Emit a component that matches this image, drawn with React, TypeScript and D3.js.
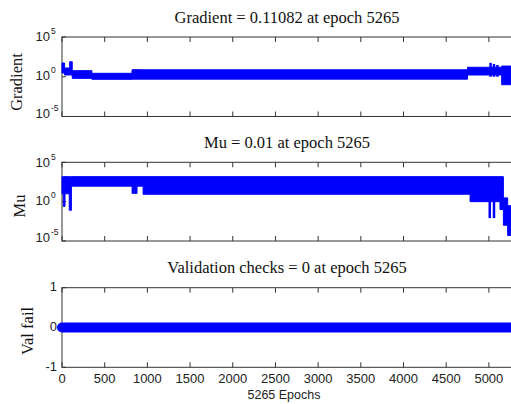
import React from "react";
import * as d3 from "d3";

// training record (bands = the envelope of the dense trace)
const epochTicks = [0, 500, 1000, 1500, 2000, 2500, 3000, 3500, 4000, 4500, 5000];
const lastEpoch = 5265;

const gradEpochs = [0, 30, 90, 120, 350, 820, 4750, 5150, 5265];
const gradLow = [3, 1.66, 1.66, 0.63, 0.48, 0.5, 1.66, 0.1, 0.1];
const gradHigh = [54, 12.6, 78, 5.8, 2.7, 7.5, 15.5, 22, 22];
const gradSpikeEpochs = [850, 880, 5020, 5060, 5100];
const gradSpikeValues = [8, 8, 56, 40, 30];

const muEpochs = [0, 15, 35, 85, 110, 950, 4780, 5130, 5170, 5220, 5265];
const muLow = [10, 0.25, 10, 0.08, 93, 8.7, 1, 0.1, 0.001, 0.00005, 0.00005];
const muHigh = [1500, 1500, 1500, 1500, 1500, 1500, 1500, 1500, 3, 0.3, 0.3];
const muSpikeEpochs = [830, 850, 870, 5010, 5060];
const muSpikeValues = [10, 10, 10, 0.008, 0.008];

const valEpochs = [0, 5265];
const valFail = [0, 0];

const logTicks = [1e-5, 1, 1e5];
const logTickExp = ["-5", "0", "5"];
const valTicks = [-1, 0, 1];

const titles = [
  "Gradient = 0.11082 at epoch 5265",
  "Mu = 0.01 at epoch 5265",
  "Validation checks = 0 at epoch 5265",
];

const W = 511;
const H = 404;
const left = 62;
const right = 511.5;
const blue = "#0000ff";
const axisColor = "#333";
const serif = "'Liberation Serif', 'Times New Roman', serif";
const sans = "'Liberation Sans', Arial, sans-serif";
const narrow = "'Liberation Sans Narrow', 'Liberation Sans', Arial, sans-serif";

const x = d3.scaleLinear().domain([0, lastEpoch]).range([left, right]);

type Band = { e: number; lo: number; hi: number };

function Frame({ top, bottom }: { top: number; bottom: number }) {
  return (
    <g>
      <rect x={left} y={top} width={W + 5 - left} height={bottom - top} fill="none" stroke={axisColor} strokeWidth={1} />
      {epochTicks.map((t) => (
        <g key={t}>
          <line x1={x(t)} x2={x(t)} y1={bottom} y2={bottom - 5} stroke={axisColor} />
          <line x1={x(t)} x2={x(t)} y1={top} y2={top + 5} stroke={axisColor} />
        </g>
      ))}
    </g>
  );
}

function LogPanel({
  top,
  bottom,
  epochs,
  low,
  high,
  spikeEpochs,
  spikeValues,
  spikeBase,
  title,
  label,
  labelX,
  labelY,
}: any) {
  const y = d3.scaleLog().domain([1e-5, 1e5]).range([bottom, top]);
  const band: Band[] = epochs.map((e: number, i: number) => ({ e, lo: low[i], hi: high[i] }));
  const area = d3
    .area<Band>()
    .curve(d3.curveStepAfter)
    .x((d) => x(d.e))
    .y0((d) => y(d.lo))
    .y1((d) => y(d.hi));
  return (
    <g>
      <Frame top={top} bottom={bottom} />
      {logTicks.map((t, i) => (
        <g key={t} fontFamily={sans} fill="#222">
          <line x1={left} x2={left + 4} y1={y(t)} y2={y(t)} stroke={axisColor} />
          <text x={50} y={y(t) + (i === 2 ? 1 : i === 0 ? -2 : 0)} fontSize={13} textAnchor="end" dominantBaseline="middle">
            10
          </text>
          <text x={51} y={y(t) - 6 + (i === 2 ? 1 : i === 0 ? -2 : 0)} fontSize={8.5} dominantBaseline="middle">
            {logTickExp[i]}
          </text>
        </g>
      ))}
      <path d={area(band) || ""} fill={blue} stroke={blue} strokeWidth={1} />
      {spikeEpochs.map((e: number, i: number) => (
        <line key={i} x1={x(e)} x2={x(e)} y1={y(spikeBase)} y2={y(spikeValues[i])} stroke={blue} strokeWidth={2.5} />
      ))}
      <text x={287} y={top - 14.5} fontFamily={serif} fontSize={16.5} textAnchor="middle" fill="#111">
        {title}
      </text>
      <text
        transform={`translate(${labelX},${labelY}) rotate(-90)`}
        fontFamily={serif}
        fontSize={16.5}
        textAnchor="middle"
        fill="#111"
      >
        {label}
      </text>
    </g>
  );
}

export default function App() {
  const vTop = 287.7;
  const vBottom = 367.3;
  const yv = d3.scaleLinear().domain([-1, 1]).range([vBottom, vTop]);
  const valLine = d3
    .line<number>()
    .x((_, i) => x(valEpochs[i]))
    .y((d) => yv(d));

  return (
    <svg width={W} height={H} style={{ position: "absolute", left: 0, top: 0, background: "#fff" }}>
      <LogPanel
        top={37}
        bottom={116.5}
        epochs={gradEpochs}
        low={gradLow}
        high={gradHigh}
        spikeEpochs={gradSpikeEpochs}
        spikeValues={gradSpikeValues}
        spikeBase={1}
        title={titles[0]}
        label="Gradient"
        labelX={22}
        labelY={82}
      />
      <LogPanel
        top={162.3}
        bottom={241}
        epochs={muEpochs}
        low={muLow}
        high={muHigh}
        spikeEpochs={muSpikeEpochs}
        spikeValues={muSpikeValues}
        spikeBase={100}
        title={titles[1]}
        label="Mu"
        labelX={25}
        labelY={206}
      />
      <g>
        <Frame top={vTop} bottom={vBottom} />
        {valTicks.map((t) => (
          <g key={t}>
            <line x1={left} x2={left + 4} y1={yv(t)} y2={yv(t)} stroke={axisColor} />
            <text x={57} y={yv(t)} fontFamily={sans} fontSize={13} textAnchor="end" dominantBaseline="middle" fill="#222">
              {t}
            </text>
          </g>
        ))}
        <path d={valLine(valFail) || ""} fill="none" stroke={blue} strokeWidth={10} strokeLinecap="round" />
        <text x={287} y={vTop - 14.5} fontFamily={serif} fontSize={16.5} textAnchor="middle" fill="#111">
          {titles[2]}
        </text>
        <text
          transform={`translate(33,331) rotate(-90)`}
          fontFamily={serif}
          fontSize={16.5}
          textAnchor="middle"
          fill="#111"
        >
          Val fail
        </text>
        {epochTicks.map((t) => (
          <text key={t} x={x(t)} y={383} fontFamily={narrow} fontSize={13} textAnchor="middle" fill="#222">
            {t}
          </text>
        ))}
        <text x={284} y={399} fontFamily={sans} fontSize={12.5} textAnchor="middle" fill="#222">
          5265 Epochs
        </text>
      </g>
    </svg>
  );
}
